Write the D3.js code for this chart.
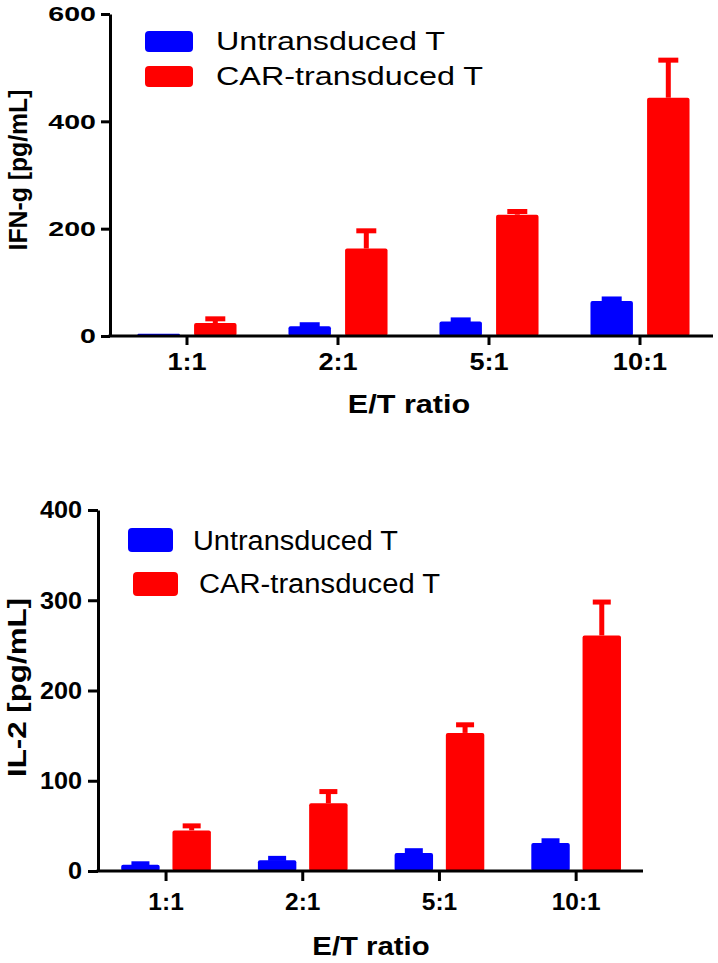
<!DOCTYPE html>
<html>
<head>
<meta charset="utf-8">
<script src="https://cdn.jsdelivr.net/npm/d3@7"></script>
<style>
  html, body { margin: 0; padding: 0; background: #fff; }
  svg { display: block; }
  text { font-family: "Liberation Sans", Arial, sans-serif; fill: #000; }
</style>
</head>
<body>
<svg id="chart" width="718" height="963"></svg>
<script>
// ---------- data ----------
const categories = ["1:1", "2:1", "5:1", "10:1"];
const seriesNames = ["Untransduced T", "CAR-transduced T"];
const seriesColors = ["#0000ff", "#ff0000"];

// Panel A: IFN-g
const ifngUntrans    = [4, 18, 27, 65];
const ifngUntransErr = [0, 3, 3, 4];
const ifngCar        = [24, 163, 226, 444];
const ifngCarErr     = [8, 33, 6, 70];
const ifngTicks      = [0, 200, 400, 600];

// Panel B: IL-2
const il2Untrans    = [7, 12, 20, 31];
const il2UntransErr = [1, 2, 2.5, 2.5];
const il2Car        = [45, 75, 153, 261];
const il2CarErr     = [5, 13, 9, 37];
const il2Ticks      = [0, 100, 200, 300, 400];

const yTitleA = "IFN-g [pg/mL]";
const yTitleB = "IL-2 [pg/mL]";
const xTitle  = "E/T ratio";

// ---------- drawing ----------
const svg = d3.select("#chart");

function stretch(sel, factor) {
  sel.each(function () {
    const w = this.getComputedTextLength();
    d3.select(this).attr("textLength", w * factor).attr("lengthAdjust", "spacingAndGlyphs");
  });
}

function panel(cfg) {
  const g = svg.append("g");
  const x0 = d3.scaleBand().domain(categories).range(cfg.xRange)
    .paddingInner(0.344).paddingOuter(0.172);
  const x1 = d3.scaleBand().domain(seriesNames).range([0, x0.bandwidth()]).paddingInner(0.25);
  const y = d3.scaleLinear().domain([0, cfg.yMax]).range(cfg.yRange);

  const rows = [];
  categories.forEach((c, i) => {
    cfg.values.forEach((vals, s) => {
      rows.push({ cat: c, s: s, v: vals[i], e: cfg.errors[s][i] });
    });
  });

  // bars
  g.selectAll("rect.bar").data(rows).join("rect")
    .attr("class", "bar")
    .attr("x", d => x0(d.cat) + x1(seriesNames[d.s]))
    .attr("width", x1.bandwidth())
    .attr("y", d => y(d.v))
    .attr("height", d => y(0) - y(d.v))
    .attr("rx", d => Math.min(2, (y(0) - y(d.v)) / 2))
    .attr("fill", d => seriesColors[d.s]);

  // error bars
  const eb = rows.filter(d => d.e > 0);
  const cx = d => x0(d.cat) + x1(seriesNames[d.s]) + x1.bandwidth() / 2;
  g.selectAll("line.stem").data(eb).join("line")
    .attr("x1", cx).attr("x2", cx)
    .attr("y1", d => y(d.v)).attr("y2", d => y(d.v + d.e))
    .attr("stroke", d => seriesColors[d.s]).attr("stroke-width", cfg.errW);
  g.selectAll("line.cap").data(eb).join("line")
    .attr("x1", d => cx(d) - cfg.capHalf).attr("x2", d => cx(d) + cfg.capHalf)
    .attr("y1", d => y(d.v + d.e)).attr("y2", d => y(d.v + d.e))
    .attr("stroke", d => seriesColors[d.s]).attr("stroke-width", cfg.errW);

  // y axis
  const ya = g.append("g").attr("transform", `translate(${cfg.yAxisX},0)`)
    .call(d3.axisLeft(y).tickValues(cfg.ticks).tickSize(cfg.tickLen).tickSizeOuter(0)
      .tickPadding(cfg.yPad).tickFormat(d3.format("d")));
  ya.select(".domain").attr("stroke-width", 3);
  ya.selectAll(".tick line").attr("stroke-width", 3);
  ya.selectAll(".tick text").attr("font-size", cfg.yTickFs).attr("font-weight", "bold")
    .attr("font-family", "'Liberation Sans', Arial, sans-serif").attr("fill", "#000")
    .call(stretch, cfg.yTickStretch);

  // x axis
  const xa = g.append("g").attr("transform", `translate(0,${y(0)})`)
    .call(d3.axisBottom(x0).tickSize(cfg.tickLen).tickSizeOuter(0).tickPadding(cfg.xPad));
  xa.select(".domain").remove();
  xa.selectAll(".tick line").attr("stroke-width", 3);
  xa.selectAll(".tick text").attr("font-size", cfg.xTickFs).attr("font-weight", "bold")
    .attr("font-family", "'Liberation Sans', Arial, sans-serif").attr("fill", "#000")
    .call(stretch, cfg.xTickStretch);
  g.append("line")
    .attr("x1", cfg.yAxisX - 1.5).attr("x2", cfg.xAxisEnd)
    .attr("y1", y(0)).attr("y2", y(0))
    .attr("stroke", "#000").attr("stroke-width", 3);

  // x title
  g.append("text").attr("x", cfg.xTitleX).attr("y", cfg.xTitleY)
    .attr("text-anchor", "middle").attr("font-size", 25.5).attr("font-weight", "bold")
    .text(xTitle).call(stretch, cfg.xTitleStretch);

  // y title
  g.append("text")
    .attr("transform", `translate(${cfg.yTitleX},${cfg.yTitleY}) rotate(-90)`)
    .attr("text-anchor", "middle").attr("font-size", cfg.yTitleFs).attr("font-weight", "bold")
    .attr("textLength", cfg.yTitleLen).attr("lengthAdjust", "spacingAndGlyphs")
    .text(cfg.yTitle);

  // legend
  seriesNames.forEach((name, s) => {
    const L = cfg.legend[s];
    g.append("rect").attr("x", L.rx).attr("y", L.ry).attr("width", L.rw).attr("height", L.rh)
      .attr("rx", 4).attr("fill", seriesColors[s]);
    g.append("text").attr("x", L.tx).attr("y", L.ty).attr("font-size", cfg.legendFs)
      .attr("textLength", L.tw).attr("lengthAdjust", "spacingAndGlyphs")
      .text(name);
  });
}

panel({
  values: [ifngUntrans, ifngCar], errors: [ifngUntransErr, ifngCarErr],
  yMax: 600, ticks: ifngTicks, yRange: [336, 14], xRange: [111.5, 715.5],
  yAxisX: 110, xAxisEnd: 713, tickLen: 9, yPad: 5, xPad: 8,
  yTickFs: 21, yTickStretch: 1.36, xTickFs: 24, xTickStretch: 1.13,
  errW: 5, capHalf: 10,
  xTitleX: 409, xTitleY: 413, xTitleStretch: 1.2,
  yTitle: yTitleA, yTitleX: 27, yTitleY: 170, yTitleFs: 25, yTitleLen: 161,
  legendFs: 25.6,
  legend: [
    { rx: 145, ry: 31, rw: 48, rh: 21, tx: 216, ty: 49.5, tw: 229 },
    { rx: 145, ry: 66, rw: 48, rh: 21, tx: 216, ty: 85, tw: 267 }
  ]
});

panel({
  values: [il2Untrans, il2Car], errors: [il2UntransErr, il2CarErr],
  yMax: 400, ticks: il2Ticks, yRange: [871, 510], xRange: [97.7, 644.5],
  yAxisX: 98, xAxisEnd: 643, tickLen: 10, yPad: 6, xPad: 12,
  yTickFs: 24.5, yTickStretch: 1.03, xTickFs: 24, xTickStretch: 1.02,
  errW: 5, capHalf: 9,
  xTitleX: 371, xTitleY: 955, xTitleStretch: 1.15,
  yTitle: yTitleB, yTitleX: 26, yTitleY: 687.5, yTitleFs: 26.6, yTitleLen: 179,
  legendFs: 27,
  legend: [
    { rx: 128, ry: 528, rw: 45, rh: 24, tx: 193, ty: 549.5, tw: 205 },
    { rx: 133, ry: 572, rw: 45, rh: 24, tx: 199, ty: 593, tw: 241 }
  ]
});
</script>
</body>
</html>
